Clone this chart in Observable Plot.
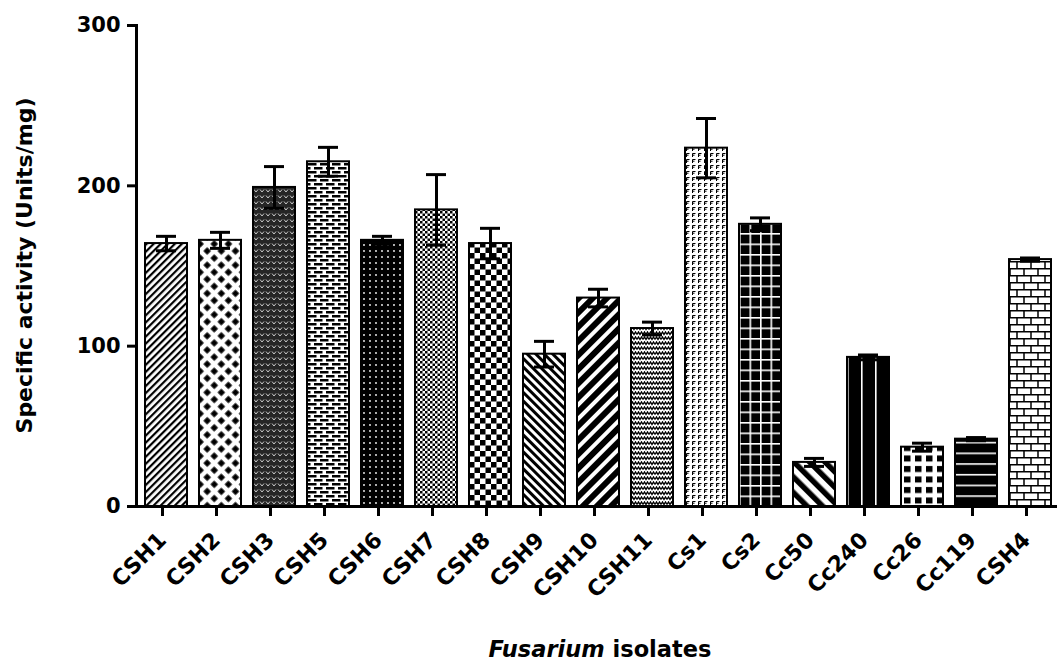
<!DOCTYPE html>
<html>
<head>
<meta charset="utf-8">
<script src="https://cdn.jsdelivr.net/npm/d3@7"></script>
<script src="https://cdn.jsdelivr.net/npm/@observablehq/plot@0.6"></script>
<style>
  html, body { margin: 0; padding: 0; background: #fff; }
  svg { display: block; }
</style>
</head>
<body>
<div id="chart"></div>
<script>
// ---- data ----
const isolates = ["CSH1","CSH2","CSH3","CSH5","CSH6","CSH7","CSH8","CSH9","CSH10","CSH11","Cs1","Cs2","Cc50","Cc240","Cc26","Cc119","CSH4"];
const means    = [164, 166, 199, 215, 166, 185, 164, 95, 130, 111, 223.5, 176, 27.5, 93, 37, 42, 154];
const errors   = [4.5, 5, 13, 9, 2.5, 22, 9.5, 8, 5.5, 4, 18.5, 4, 2.5, 1.5, 2.5, 1, 1];
const yTicks   = [0, 100, 200, 300];
const yTitle   = "Specific activity (Units/mg)";
const xTitleItalic = "Fusarium";
const xTitleRest   = " isolates";

const rows = isolates.map((name, i) => ({name, mean: means[i], err: errors[i], idx: i}));
const patId = d => `url(#pat${d.idx})`;
const FONT = "'DejaVu Sans', sans-serif";

const chart = Plot.plot({
  width: 1057,
  height: 666,
  marginLeft: 136,
  marginRight: 0,
  marginTop: 25,
  marginBottom: 160,
  style: {fontFamily: FONT, fontWeight: "bold", color: "black", background: "white"},
  x: {domain: isolates, range: [115, 1080], paddingInner: 0.2267, paddingOuter: 0.5},
  y: {domain: [0, 300]},
  color: {type: "identity"},
  marks: [
    Plot.barY(rows, {x: "name", y: "mean", fill: patId, stroke: "black", strokeWidth: 2}),
    Plot.ruleX(rows, {x: "name", y1: d => d.mean - d.err, y2: d => d.mean + d.err, stroke: "black", strokeWidth: 3}),
    Plot.tickY(rows, {x: "name", y: d => d.mean + d.err, stroke: "black", strokeWidth: 3, inset: 11}),
    Plot.tickY(rows, {x: "name", y: d => d.mean - d.err, stroke: "black", strokeWidth: 3, inset: 11}),
    Plot.frame({anchor: "left", stroke: "black", strokeWidth: 3}),
    Plot.ruleY([0], {stroke: "black", strokeWidth: 3, insetLeft: -9}),
    Plot.axisY({ticks: yTicks, tickSize: 9, tickPadding: 7, strokeWidth: 3, fontSize: 21, label: null}),
    Plot.axisX({tickSize: 10, strokeWidth: 3, tickRotate: -45, tickPadding: 20, dx: -4, fontSize: 22, label: null})
  ]
});

document.getElementById("chart").appendChild(chart);

// Fill patterns for the bars, anchored to each bar's band through the Plot scales
const xs = chart.scale("x"), ys = chart.scale("y");
const svg = d3.select(chart);
const defs = svg.insert("defs", ":first-child");
const y0 = ys.apply(0);

const painters = [
  // 0 CSH1 fine "/" hatch
  p => { p.attr("width", 5).attr("height", 10).attr("patternTransform", "rotate(45)");
         p.append("rect").attr("width", 5).attr("height", 10).attr("fill", "white");
         p.append("rect").attr("width", 2.2).attr("height", 10).attr("fill", "black"); },
  // 1 CSH2 black diamonds in white lattice
  p => { p.attr("width", 10).attr("height", 10).attr("patternTransform", "rotate(45)");
         p.append("rect").attr("width", 10).attr("height", 10).attr("fill", "white");
         p.append("rect").attr("x", 2.3).attr("y", 2.3).attr("width", 5.4).attr("height", 5.4).attr("fill", "black"); },
  // 2 CSH3 dark with small light chevrons
  p => { p.attr("width", 6).attr("height", 6);
         p.append("rect").attr("width", 6).attr("height", 6).attr("fill", "#262626");
         p.append("path").attr("d", "M1,1.5 L3,4 L5,1.5").attr("fill", "none").attr("stroke", "#c8c8c8").attr("stroke-width", 1); },
  // 3 CSH5 black bricks on white
  p => { p.attr("width", 12).attr("height", 8);
         p.append("rect").attr("width", 12).attr("height", 8).attr("fill", "white");
         p.append("rect").attr("x", 1).attr("y", 1).attr("width", 8.5).attr("height", 2.5).attr("fill", "black");
         p.append("rect").attr("x", -5).attr("y", 5).attr("width", 8.5).attr("height", 2.5).attr("fill", "black");
         p.append("rect").attr("x", 7).attr("y", 5).attr("width", 8.5).attr("height", 2.5).attr("fill", "black"); },
  // 4 CSH6 black with white dots
  p => { p.attr("width", 6).attr("height", 6);
         p.append("rect").attr("width", 6).attr("height", 6).attr("fill", "black");
         p.append("circle").attr("cx", 3).attr("cy", 3).attr("r", 0.9).attr("fill", "white"); },
  // 5 CSH7 fine checker
  p => { p.attr("width", 5).attr("height", 5);
         p.append("rect").attr("width", 5).attr("height", 5).attr("fill", "white");
         p.append("rect").attr("width", 2.5).attr("height", 2.5).attr("fill", "black");
         p.append("rect").attr("x", 2.5).attr("y", 2.5).attr("width", 2.5).attr("height", 2.5).attr("fill", "black"); },
  // 6 CSH8 checkerboard
  p => { p.attr("width", 11).attr("height", 11);
         p.append("rect").attr("width", 11).attr("height", 11).attr("fill", "white");
         p.append("rect").attr("width", 5.5).attr("height", 5.5).attr("fill", "black");
         p.append("rect").attr("x", 5.5).attr("y", 5.5).attr("width", 5.5).attr("height", 5.5).attr("fill", "black"); },
  // 7 CSH9 "\" hatch
  p => { p.attr("width", 6).attr("height", 10).attr("patternTransform", "rotate(-45)");
         p.append("rect").attr("width", 6).attr("height", 10).attr("fill", "white");
         p.append("rect").attr("width", 3).attr("height", 10).attr("fill", "black"); },
  // 8 CSH10 wide "/" stripes
  p => { p.attr("width", 10).attr("height", 10).attr("patternTransform", "rotate(45)");
         p.append("rect").attr("width", 10).attr("height", 10).attr("fill", "white");
         p.append("rect").attr("width", 6).attr("height", 10).attr("fill", "black"); },
  // 9 CSH11 woven zigzag
  p => { p.attr("width", 6).attr("height", 5);
         p.append("rect").attr("width", 6).attr("height", 5).attr("fill", "white");
         p.append("path").attr("d", "M0,3.5 L1.5,1 L3,3.5 L4.5,1 L6,3.5").attr("fill", "none").attr("stroke", "black").attr("stroke-width", 1.4); },
  // 10 Cs1 light small marks
  p => { p.attr("width", 6).attr("height", 6);
         p.append("rect").attr("width", 6).attr("height", 6).attr("fill", "white");
         p.append("path").attr("d", "M1.5,5 L1.5,1.5 L4.5,1.5 M1.5,3.2 L3.5,3.2").attr("fill", "none").attr("stroke", "black").attr("stroke-width", 1); },
  // 11 Cs2 black with white grid
  p => { p.attr("width", 10.5).attr("height", 10.5);
         p.append("rect").attr("width", 10.5).attr("height", 10.5).attr("fill", "black");
         p.append("rect").attr("x", 0).attr("width", 1.6).attr("height", 10.5).attr("fill", "white");
         p.append("rect").attr("y", 0).attr("width", 10.5).attr("height", 1.6).attr("fill", "white"); },
  // 12 Cc50 wide "\" stripes
  p => { p.attr("width", 11).attr("height", 10).attr("patternTransform", "rotate(-45)");
         p.append("rect").attr("width", 11).attr("height", 10).attr("fill", "white");
         p.append("rect").attr("width", 5.5).attr("height", 10).attr("fill", "black"); },
  // 13 Cc240 black with thin white verticals
  p => { p.attr("width", 14).attr("height", 10);
         p.append("rect").attr("width", 14).attr("height", 10).attr("fill", "black");
         p.append("rect").attr("x", 0).attr("width", 1.6).attr("height", 10).attr("fill", "white"); },
  // 14 Cc26 black squares on white
  p => { p.attr("width", 11).attr("height", 10.5);
         p.append("rect").attr("width", 11).attr("height", 10.5).attr("fill", "white");
         p.append("rect").attr("x", 3).attr("y", 2).attr("width", 6.5).attr("height", 6).attr("fill", "black"); },
  // 15 Cc119 black with white horizontals
  p => { p.attr("width", 10).attr("height", 10.7);
         p.append("rect").attr("width", 10).attr("height", 10.7).attr("fill", "black");
         p.append("rect").attr("y", 0).attr("width", 10).attr("height", 1.6).attr("fill", "white"); },
  // 16 CSH4 outlined bricks
  p => { p.attr("width", 14).attr("height", 14);
         p.append("rect").attr("width", 14).attr("height", 14).attr("fill", "white");
         p.append("path").attr("d", "M0,0.75 H14 M0,7.75 H14 M1,0 V7 M8,7 V14").attr("fill", "none").attr("stroke", "black").attr("stroke-width", 1.5); }
];

rows.forEach((d, i) => {
  const p = defs.append("pattern").attr("id", `pat${i}`).attr("patternUnits", "userSpaceOnUse")
    .attr("x", xs.apply(d.name)).attr("y", y0);
  painters[i](p);
});

// y-axis title
svg.append("text")
  .attr("transform", `translate(32,${(ys.apply(300) + y0) / 2}) rotate(-90)`)
  .attr("text-anchor", "middle")
  .attr("font-family", FONT)
  .attr("font-weight", "bold")
  .attr("font-size", 22)
  .attr("fill", "black")
  .text(yTitle);

// x-axis title with italic genus name
svg.append("text")
  .attr("x", (xs.apply(isolates[0]) + xs.apply(isolates[isolates.length - 1]) + xs.bandwidth) / 2 + 2)
  .attr("y", 657)
  .attr("text-anchor", "middle")
  .attr("font-family", FONT)
  .attr("font-weight", "bold")
  .attr("font-size", 22.5)
  .attr("fill", "black")
  .call(t => {
    t.append("tspan").attr("font-style", "italic").text(xTitleItalic);
    t.append("tspan").text(xTitleRest);
  });
</script>
</body>
</html>
